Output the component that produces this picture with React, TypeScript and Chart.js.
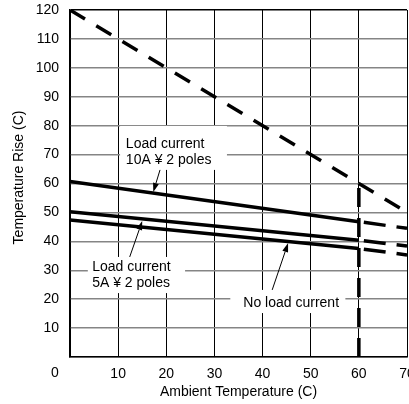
import React, { useEffect, useRef } from 'react';
import { Chart, registerables } from 'chart.js';

Chart.register(...registerables);

// ---- Data ----
const ambientPoints = [0, 60, 70]; // x of each curve point: start, rated limit, end
const load10A = [60.7, 46.8, 44.5];
const load5A = [50.2, 40.4, 38.4];
const noLoad = [47.4, 37.5, 35.3];
const maxRiseX = [0, 60, 70];
const maxRiseY = [120, 60, 50];
const limitX = [60, 60];
const limitY = [0, 60];

const xTickValues = [0, 10, 20, 30, 40, 50, 60, 70];
const yTickValues = [10, 20, 30, 40, 50, 60, 70, 80, 90, 100, 110, 120];

const xTitle = 'Ambient Temperature (C)';
const yTitle = 'Temperature Rise (C)';

// annotations in data units: box [x0, y0, x1, y1], text anchor [x, y of first line], arrow from/to
const annotations = [
  { lines: ['Load current', '10A ¥ 2 poles'], box: [10.4, 64.7, 32.6, 79.9], text: [11.6, 73.7], from: [18.7, 64.7], to: [17.3, 57.1] },
  { lines: ['Load current', '5A ¥ 2 poles'], box: [3.7, 22.1, 23.9, 34.6], text: [4.6, 31.1], from: [12.4, 34.6], to: [15.0, 47.0] },
  { lines: ['No load current'], box: [33.3, 15.2, 57.2, 23.2], text: [36.0, 18.7], from: [42.0, 23.2], to: [45.3, 39.4] },
];

const FONT = "'Liberation Sans', Arial, Helvetica, sans-serif";
const INK = '#000';

const pts = (xs: number[], ys: number[], from: number, to: number) => {
  const out: { x: number; y: number }[] = [];
  for (let i = from; i <= to; i++) out.push({ x: xs[i], y: ys[i] });
  return out;
};

const annoPlugin = {
  id: 'annos',
  beforeDatasetsDraw(chart: any) {
    const { ctx, scales } = chart;
    const x = scales.x, y = scales.y;
    ctx.save();
    ctx.fillStyle = '#ffffff';
    for (const a of annotations) {
      const x0 = x.getPixelForValue(a.box[0]);
      const x1 = x.getPixelForValue(a.box[2]);
      const y0 = y.getPixelForValue(a.box[3]);
      const y1 = y.getPixelForValue(a.box[1]);
      ctx.fillRect(x0, y0, x1 - x0, y1 - y0);
    }
    ctx.restore();
  },
  afterDatasetsDraw(chart: any) {
    const { ctx, scales } = chart;
    const x = scales.x, y = scales.y;
    ctx.save();
    ctx.fillStyle = INK;
    ctx.strokeStyle = INK;
    ctx.font = `14px ${FONT}`;
    ctx.textAlign = 'left';
    ctx.textBaseline = 'middle';
    for (const a of annotations) {
      const tx = x.getPixelForValue(a.text[0]);
      const ty = y.getPixelForValue(a.text[1]);
      a.lines.forEach((l, i) => ctx.fillText(l, tx, ty + i * 16.5));
      const fx = x.getPixelForValue(a.from[0]);
      const fy = y.getPixelForValue(a.from[1]);
      const ex = x.getPixelForValue(a.to[0]);
      const ey = y.getPixelForValue(a.to[1]);
      const ang = Math.atan2(ey - fy, ex - fx);
      const hl = 9, hw = 3;
      const bx = ex - hl * Math.cos(ang), by = ey - hl * Math.sin(ang);
      ctx.lineWidth = 1;
      ctx.beginPath();
      ctx.moveTo(fx, fy);
      ctx.lineTo(bx, by);
      ctx.stroke();
      ctx.beginPath();
      ctx.moveTo(ex, ey);
      ctx.lineTo(bx + hw * Math.sin(ang), by - hw * Math.cos(ang));
      ctx.lineTo(bx - hw * Math.sin(ang), by + hw * Math.cos(ang));
      ctx.closePath();
      ctx.fill();
    }
    ctx.restore();
  },
  afterDraw(chart: any) {
    const { ctx, scales, chartArea } = chart;
    const x = scales.x;
    ctx.save();
    ctx.fillStyle = INK;
    ctx.font = `14px ${FONT}`;
    // the "0" tick label sits left of the origin in the reference
    ctx.textAlign = 'center';
    ctx.textBaseline = 'top';
    ctx.fillText(String(xTickValues[0]), x.getPixelForValue(0) - 15, x.top + 9);
    // y axis title
    ctx.translate(22.5, (chartArea.top + chartArea.bottom) / 2 - 6);
    ctx.rotate(-Math.PI / 2);
    ctx.textBaseline = 'alphabetic';
    ctx.fillText(yTitle, 0, 0);
    ctx.restore();
  },
};

export default function App() {
  const ref = useRef<HTMLCanvasElement>(null);
  useEffect(() => {
    if (!ref.current) return;
    const solid = { borderColor: INK, borderWidth: 3.5, pointRadius: 0, fill: false, tension: 0, borderCapStyle: 'butt' };
    const tail = { ...solid, borderDash: [22, 11], borderDashOffset: 28 };
    const chart = new Chart(ref.current, {
      type: 'line',
      data: {
        datasets: [
          { ...solid, borderDash: [17.5, 13.1], data: pts(maxRiseX, maxRiseY, 0, 2) },
          { ...solid, borderDash: [19, 11], data: pts(limitX, limitY, 0, 1) },
          { ...solid, data: pts(ambientPoints, load10A, 0, 1) },
          { ...tail, data: pts(ambientPoints, load10A, 1, 2) },
          { ...solid, data: pts(ambientPoints, load5A, 0, 1) },
          { ...tail, data: pts(ambientPoints, load5A, 1, 2) },
          { ...solid, data: pts(ambientPoints, noLoad, 0, 1) },
          { ...tail, data: pts(ambientPoints, noLoad, 1, 2) },
        ] as any,
      },
      options: {
        animation: false,
        responsive: false,
        devicePixelRatio: 1,
        layout: { padding: { top: 10, right: 2, left: 0, bottom: 0 } },
        plugins: { legend: { display: false }, tooltip: { enabled: false } },
        scales: {
          x: {
            type: 'linear',
            min: 0,
            max: 70,
            afterBuildTicks: (s: any) => { s.ticks = xTickValues.map((v) => ({ value: v })); },
            afterFit: (s: any) => { s.height = 47; s.paddingLeft = 0; s.paddingRight = 0; },
            ticks: {
              color: INK,
              font: { family: FONT, size: 14 },
              padding: 9,
              maxRotation: 0,
              autoSkip: false,
              callback: (v: any) => (v === 0 ? '' : String(v)),
            },
            grid: { color: INK, lineWidth: 1, drawTicks: false },
            border: { color: INK, width: 1.5 },
            title: {
              display: true,
              text: xTitle,
              color: INK,
              font: { family: FONT, size: 14 },
              padding: { top: 0, bottom: 3 },
            },
          },
          y: {
            type: 'linear',
            min: 0,
            max: 120,
            afterBuildTicks: (s: any) => { s.ticks = [0, ...yTickValues].map((v) => ({ value: v })); },
            afterFit: (s: any) => { s.width = 70; s.paddingTop = 0; s.paddingBottom = 0; },
            ticks: {
              color: INK,
              font: { family: FONT, size: 14 },
              padding: 11,
              autoSkip: false,
              callback: (v: any) => (v === 0 ? '' : String(v)),
            },
            grid: {
              color: (c: any) => (c.tick && c.tick.value === 120 ? INK : '#858585'),
              lineWidth: 1.5,
              drawTicks: false,
            },
            border: { color: INK, width: 1.5 },
            title: { display: false },
          },
        },
      } as any,
      plugins: [annoPlugin],
    });
    return () => chart.destroy();
  }, []);
  return (
    <div style={{ position: 'absolute', left: 0, top: 0, width: 409, height: 404, background: '#fff' }}>
      <canvas ref={ref} width={409} height={404} />
    </div>
  );
}
